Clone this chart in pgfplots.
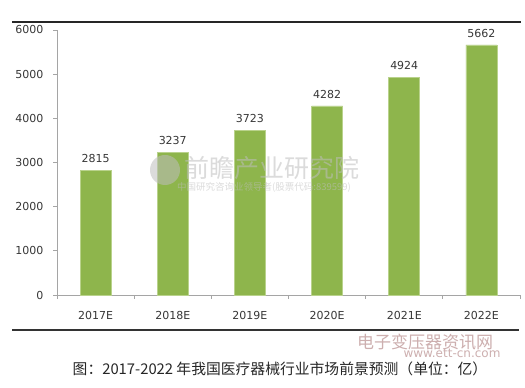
\documentclass[border=0pt]{standalone}
\usepackage{fontspec}
\setmainfont{DejaVu Sans}
\newfontfamily\cjk{Noto Sans CJK SC}
\usepackage{pgfplots}
\pgfplotsset{compat=1.18}
\definecolor{barg}{RGB}{142,181,76}
\definecolor{bare}{RGB}{185,210,140}
\definecolor{axg}{RGB}{165,165,165}
\definecolor{txt}{RGB}{55,55,55}
\definecolor{wm}{RGB}{190,190,190}
\definecolor{wmp}{RGB}{205,175,175}
\begin{document}
\begin{tikzpicture}[x=1pt,y=1pt]
\useasboundingbox (0,0) rectangle (525,388);
\fill[white] (0,0) rectangle (525,388);
\begin{axis}[
  at={(57pt,93pt)}, anchor=south west,
  scale only axis, width=463pt, height=265pt,
  xmin=-0.5, xmax=5.5, ymin=0, ymax=6000,
  axis x line*=bottom, axis y line*=left,
  axis line style={axg, line width=0.8pt},
  xtick={0,1,2,3,4,5},
  xticklabels={2017E,2018E,2019E,2020E,2021E,2022E},
  major x tick style={draw=none},
  minor xtick={-0.5,0.5,1.5,2.5,3.5,4.5,5.5},
  minor tick length=4pt,
  ytick={0,1000,2000,3000,4000,5000,6000},
  tick align=outside, major tick length=4pt,
  tick style={axg, line width=0.8pt},
  scaled y ticks=false,
  /pgf/number format/assume math mode=true,
  /pgf/number format/1000 sep={},
  ticklabel style={font=\fontsize{11}{12}\selectfont, color=txt},
  xticklabel style={yshift=-9pt},
  yticklabel style={xshift=-6pt},
  ybar, bar width=31pt,
  nodes near coords,
  nodes near coords style={font=\fontsize{11}{12}\selectfont, color=txt, yshift=4pt},
  clip=false,
]
\addplot[fill=barg, draw=bare, line width=0.6pt] coordinates {
  (0,2815) (1,3237) (2,3723) (3,4282) (4,4924) (5,5662)
};
\end{axis}
\fill[black!85] (12,364.5) rectangle (521,366.5);
\draw[line width=1.3pt, black!80] (12,58) -- (519,58);
% watermark
\begin{scope}[opacity=0.55]
\fill[wm] (165,218) circle (15);
\node[wm, font=\cjk\fontsize{25}{26}\selectfont] at (272,220) {前瞻产业研究院};
\node[wm, font=\cjk\fontsize{9.5}{10}\selectfont] at (264,201) {中国研究咨询业领导者(股票代码:839599)};
\end{scope}
\node[wmp, font=\cjk\fontsize{17}{18}\selectfont] at (425,46) {电子变压器资讯网};
\node[wmp, font=\fontsize{12}{13}\selectfont] at (452,35) {www.ett-cn.com};
% caption
\node[black!85, font=\cjk\fontsize{14.8}{16}\selectfont] at (280,19) {图：2017-2022 年我国医疗器械行业市场前景预测（单位：亿）};
\end{tikzpicture}
\end{document}
